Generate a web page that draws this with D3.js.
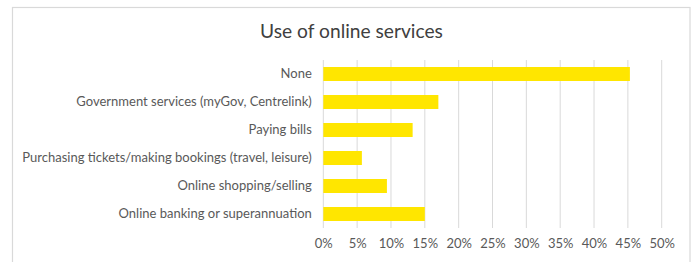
<!DOCTYPE html>
<html>
<head>
<meta charset="utf-8">
<script src="https://cdn.jsdelivr.net/npm/d3@7"></script>
<style>
  body { margin: 0; background: #fff; }
  text { font-family: Lato, "Open Sans", sans-serif; }
</style>
</head>
<body>
<div id="chart"></div>
<script>
// chart values
var categories = [
    "None",
    "Government services (myGov, Centrelink)",
    "Paying bills",
    "Purchasing tickets/making bookings (travel, leisure)",
    "Online shopping/selling",
    "Online banking or superannuation"
];
var shares = [45.3, 17.0, 13.2, 5.7, 9.4, 15.0];
var tickValues = [0, 5, 10, 15, 20, 25, 30, 35, 40, 45, 50];

var width = 697, height = 262;
var margin = {top: 60, right: 35.3, bottom: 34, left: 323.3};
var innerW = width - margin.left - margin.right;
var innerH = height - margin.top - margin.bottom;

var svg = d3.select("#chart").append("svg")
    .attr("width", width)
    .attr("height", height);

// outer chart frame
svg.append("rect")
    .attr("x", 12.5)
    .attr("y", 7.5)
    .attr("width", 677.5)
    .attr("height", 270)
    .style("fill", "none")
    .style("stroke", "#d9d9d9")
    .style("stroke-width", 1.2);

svg.append("text")
    .attr("x", 351.5)
    .attr("y", 37.5)
    .attr("text-anchor", "middle")
    .style("font-size", "19.2px")
    .style("fill", "#404040")
    .text("Use of online services");

var g = svg.append("g")
    .attr("transform", "translate(" + margin.left + "," + margin.top + ")");

var x = d3.scaleLinear().domain([0, 50]).range([0, innerW]);
var y = d3.scaleBand().domain(categories).range([0, innerH]).paddingInner(0.5).paddingOuter(0.25);

// gridlines
g.selectAll("line.grid").data(tickValues)
    .enter().append("line")
    .attr("class", "grid")
    .attr("x1", function(d) { return x(d); })
    .attr("x2", function(d) { return x(d); })
    .attr("y1", 0)
    .attr("y2", innerH)
    .style("stroke", "#d9d9d9")
    .style("stroke-width", 1);

g.selectAll("rect.bar").data(shares)
    .enter().append("rect")
    .attr("class", "bar")
    .attr("x", 0)
    .attr("y", function(d, i) { return y(categories[i]); })
    .attr("width", function(d) { return x(d); })
    .attr("height", y.bandwidth())
    .style("fill", "#ffe600");

var xAxis = g.append("g")
    .attr("transform", "translate(0," + innerH + ")")
    .call(d3.axisBottom(x).tickValues(tickValues).tickSize(0).tickPadding(11)
        .tickFormat(function(d) { return d + "%"; }));
xAxis.select(".domain").remove();
xAxis.selectAll("text")
    .style("font-family", "Lato, sans-serif")
    .style("font-size", "13px")
    .style("fill", "#595959");

var yAxis = g.append("g")
    .call(d3.axisLeft(y).tickSize(0).tickPadding(11.5));
yAxis.select(".domain").remove();
yAxis.selectAll("text")
    .style("font-family", "Lato, sans-serif")
    .style("font-size", "13px")
    .style("fill", "#595959");
</script>
</body>
</html>
